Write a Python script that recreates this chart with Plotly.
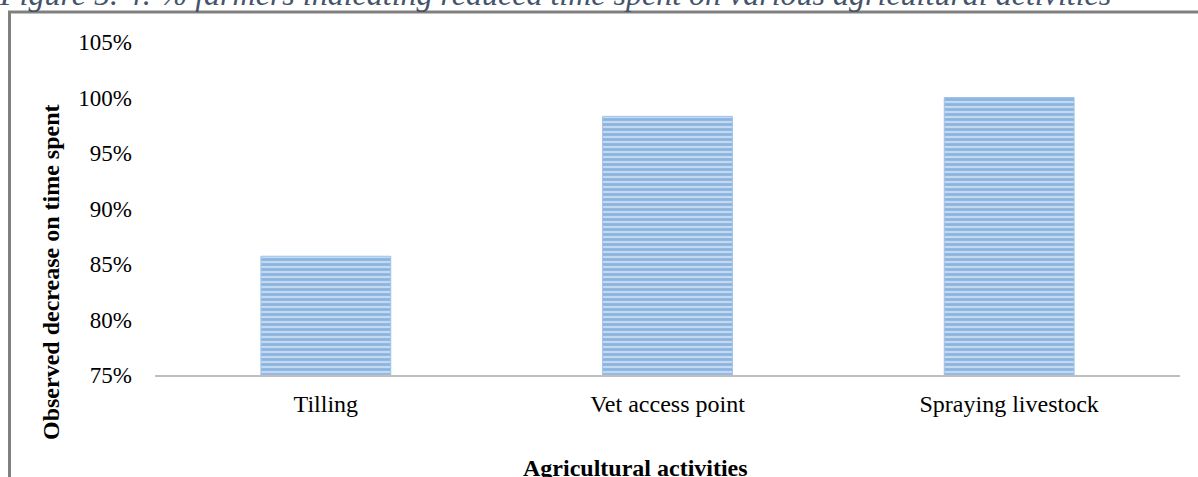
import plotly.graph_objects as go

# Share of farmers reporting less time spent per activity
activities = ["Tilling", "Vet access point", "Spraying livestock"]
pct_reduced = [85.7, 98.3, 100.0]

y_tick_vals = [75, 80, 85, 90, 95, 100, 105]
y_tick_text = ["75%", "80%", "85%", "90%", "95%", "100%", "105%"]

caption = "Figure 5. 4: % farmers indicating reduced time spent on various agricultural activities"
x_title = "Agricultural activities"
y_title = "Observed decrease on time spent"

SERIF = "Liberation Serif, Times New Roman, serif"
W, H = 1198, 477
ML, MR, MT, MB = 155, 18, 42, 102
pw, ph = W - ML - MR, H - MT - MB


def px(xp):
    return (xp - ML) / pw


def py(yp):
    return (H - MB - yp) / ph


fig = go.Figure(
    go.Bar(
        x=activities,
        y=[v - 75 for v in pct_reduced],
        base=75,
        marker=dict(
            color="#BDD4EE",
            line=dict(color="#9FC2E8", width=1),
            pattern=dict(shape="-", fgcolor="#4F8FD0", bgcolor="#C4D9F0",
                         size=5, solidity=0.55),
        ),
        hoverinfo="skip",
    )
)

fig.update_layout(
    width=W, height=H,
    margin=dict(l=ML, r=MR, t=MT, b=MB),
    paper_bgcolor="white", plot_bgcolor="white",
    bargap=0.62,
    showlegend=False,
    font=dict(family=SERIF, size=23, color="black"),
)

fig.update_xaxes(
    showgrid=False, zeroline=False,
    showline=True, linecolor="#BFBFBF", linewidth=2,
    ticks="", ticklabelstandoff=6,
    tickfont=dict(family=SERIF, size=24, color="black"),
)
fig.update_yaxes(
    range=[75, 105], showgrid=False, zeroline=False, showline=False,
    tickvals=y_tick_vals, ticktext=y_tick_text,
    ticks="", ticklabelstandoff=22,
    tickfont=dict(family=SERIF, size=23, color="black"),
)

# Axis titles
fig.add_annotation(
    text=f"<b>{y_title}</b>", xref="paper", yref="paper",
    x=px(51), y=py(272),
    textangle=-90, showarrow=False, xanchor="center", yanchor="middle",
    font=dict(family=SERIF, size=24, color="black"),
)
fig.add_annotation(
    text=f"<b>{x_title}</b>", xref="paper", yref="paper",
    x=px(635), y=py(468),
    showarrow=False, xanchor="center", yanchor="middle",
    font=dict(family=SERIF, size=24, color="black"),
)

# Caption running above the frame
fig.add_annotation(
    text=f"<i>{caption}</i>", xref="paper", yref="paper",
    x=px(-3), y=py(14),
    showarrow=False, xanchor="left", yanchor="bottom",
    font=dict(family=SERIF, size=32, color="#44546A"),
)

# Outer frame (left and top edges)
fig.add_shape(type="line", xref="paper", yref="paper",
              x0=px(9.5), x1=px(9.5), y0=py(11), y1=py(H + 5),
              line=dict(color="#808080", width=3))
fig.add_shape(type="line", xref="paper", yref="paper",
              x0=px(8), x1=px(W + 5), y0=py(12), y1=py(12),
              line=dict(color="#808080", width=3))

fig.write_html("out.html")
